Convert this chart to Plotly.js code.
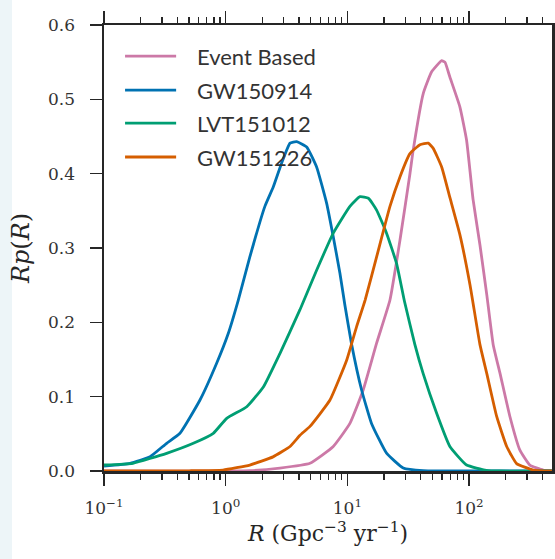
<!DOCTYPE html>
<html>
<head>
<meta charset="utf-8">
<script src="https://cdn.plot.ly/plotly-3.0.1.min.js"></script>
<style>
  html, body { margin: 0; padding: 0; }
  body { width: 555px; height: 559px; background: linear-gradient(to right, #edf5f8 0px, #edf5f8 12px, #ffffff 12px); }
  #chart { width: 555px; height: 559px; }
</style>
</head>
<body>
<div id="chart"></div>
<script>
// ---- data ----
const seriesNames = ["Event Based", "GW150914", "LVT151012", "GW151226"];
const seriesColors = ["#CC79A7", "#0072B2", "#009E73", "#D55E00"];

const eventR = [0.1, 1.58, 2.79, 4.93, 7.66, 10.5, 13.5, 17.4, 22.4, 27.1, 32.7, 34.8, 42.1, 49.3, 59.6, 63.4, 69.6, 84.1, 95.5, 108, 123, 140, 158, 180, 217, 262, 316, 407, 480];
const eventP = [0, 0.0005, 0.004, 0.0104, 0.033, 0.064, 0.109, 0.172, 0.230, 0.311, 0.400, 0.432, 0.508, 0.537, 0.552, 0.550, 0.530, 0.490, 0.445, 0.365, 0.304, 0.237, 0.170, 0.131, 0.073, 0.028, 0.008, 0.0013, 0];

const gw150914R = [0.1, 0.164, 0.239, 0.327, 0.421, 0.615, 0.843, 1.05, 1.27, 1.58, 2.10, 2.46, 2.88, 3.38, 3.83, 4.63, 5.59, 6.76, 7.66, 8.69, 9.55, 10.8, 13.1, 15.8, 21.0, 28.8, 42.0, 124, 480];
const gw150914P = [0.0067, 0.0104, 0.0192, 0.0373, 0.0507, 0.0955, 0.145, 0.185, 0.230, 0.288, 0.356, 0.382, 0.414, 0.441, 0.443, 0.436, 0.409, 0.360, 0.315, 0.266, 0.223, 0.172, 0.109, 0.064, 0.024, 0.004, 0.0005, 0, 0];

const lvt151012R = [0.1, 0.173, 0.327, 0.542, 0.791, 1.02, 1.49, 2.04, 2.79, 4.08, 5.59, 7.66, 10.5, 12.7, 14.9, 17.4, 21.0, 25.4, 29.5, 35.9, 42.0, 54.1, 69.6, 95.5, 139, 179, 480];
const lvt151012P = [0.0081, 0.0104, 0.0238, 0.0373, 0.0507, 0.0709, 0.0865, 0.113, 0.158, 0.217, 0.270, 0.320, 0.356, 0.369, 0.367, 0.351, 0.320, 0.279, 0.228, 0.170, 0.131, 0.078, 0.033, 0.008, 0.001, 0, 0];

const gw151226R = [0.1, 0.5, 0.95, 1.58, 2.45, 3.38, 4.08, 4.93, 7.20, 9.87, 11.9, 14.0, 17.4, 22.4, 27.1, 32.7, 39.5, 46.2, 50.8, 59.6, 69.6, 84.1, 102, 123, 140, 169, 204, 246, 337, 480];
const gw151226P = [0, 0.0003, 0.0013, 0.008, 0.019, 0.033, 0.048, 0.060, 0.0955, 0.149, 0.194, 0.230, 0.288, 0.356, 0.396, 0.427, 0.439, 0.441, 0.434, 0.409, 0.368, 0.318, 0.250, 0.170, 0.131, 0.073, 0.033, 0.010, 0.0013, 0];

const xTickVals = [0.1, 1, 10, 100];
const xTickText = ["10<sup>\u22121</sup>", "10<sup>0</sup>", "10<sup>1</sup>", "10<sup>2</sup>"];
const yTickVals = [0.0, 0.1, 0.2, 0.3, 0.4, 0.5, 0.6];
const yTickText = ["0.0", "0.1", "0.2", "0.3", "0.4", "0.5", "0.6"];
const xMinorVals = [0.2,0.3,0.4,0.5,0.6,0.7,0.8,0.9, 2,3,4,5,6,7,8,9, 20,30,40,50,60,70,80,90, 200,300,400];

const allR = [eventR, gw150914R, lvt151012R, gw151226R];
const allP = [eventP, gw150914P, lvt151012P, gw151226P];

const traces = seriesNames.map((name, i) => ({
  type: "scatter", mode: "lines", name: name,
  x: allR[i], y: allP[i],
  line: { color: seriesColors[i], width: 2.8, shape: "spline", smoothing: 0.4 },
  showlegend: false, hoverinfo: "skip"
}));

// manual legend (matplotlib-style long line samples)
const legY = [0.930, 0.854, 0.780, 0.704];
const shapes = seriesNames.map((n, i) => ({
  type: "line", xref: "paper", yref: "paper",
  x0: 0.047, x1: 0.161, y0: legY[i], y1: legY[i],
  line: { color: seriesColors[i], width: 2.8 }
}));
const annotations = seriesNames.map((n, i) => ({
  xref: "paper", yref: "paper", x: 0.203, y: legY[i],
  xanchor: "left", yanchor: "middle", showarrow: false, text: n,
  font: { family: "Lato, 'DejaVu Sans', sans-serif", size: 22, color: "#333333" }
}));

const axisCommon = {
  showgrid: false, zeroline: false, showline: true, linecolor: "#262626", linewidth: 2.5,
  ticks: "outside", ticklen: 12, tickwidth: 1.5, tickcolor: "#262626",
  mirror: "allticks",
  tickfont: { family: "'DejaVu Serif', serif", size: 17, color: "#333333" }
};

const layout = {
  width: 555, height: 559,
  margin: { l: 104, r: 3, t: 25, b: 88 },
  paper_bgcolor: "rgba(0,0,0,0)", plot_bgcolor: "#ffffff",
  xaxis: Object.assign({}, axisCommon, {
    type: "log", range: [-1, 2.682],
    tickmode: "array", tickvals: xTickVals, ticktext: xTickText,
    ticklabelstandoff: 8,
    minor: { tickmode: "array", tickvals: xMinorVals, ticks: "outside", ticklen: 6, tickwidth: 1.3, tickcolor: "#262626" },
    title: { text: "<i>R</i> (Gpc<sup>\u22123</sup> yr<sup>\u22121</sup>)", standoff: 8,
             font: { family: "'DejaVu Serif', serif", size: 22, color: "#262626" } }
  }),
  yaxis: Object.assign({}, axisCommon, {
    range: [0, 0.6], tickmode: "array", tickvals: yTickVals, ticktext: yTickText,
    ticklabelstandoff: 11,
    title: { text: "<i>Rp</i>(<i>R</i>)", standoff: 12,
             font: { family: "'DejaVu Serif', serif", size: 24, color: "#262626" } }
  }),
  shapes: shapes,
  annotations: annotations,
  showlegend: false
};

Plotly.newPlot("chart", traces, layout, { displayModeBar: false, staticPlot: true });
</script>
</body>
</html>
